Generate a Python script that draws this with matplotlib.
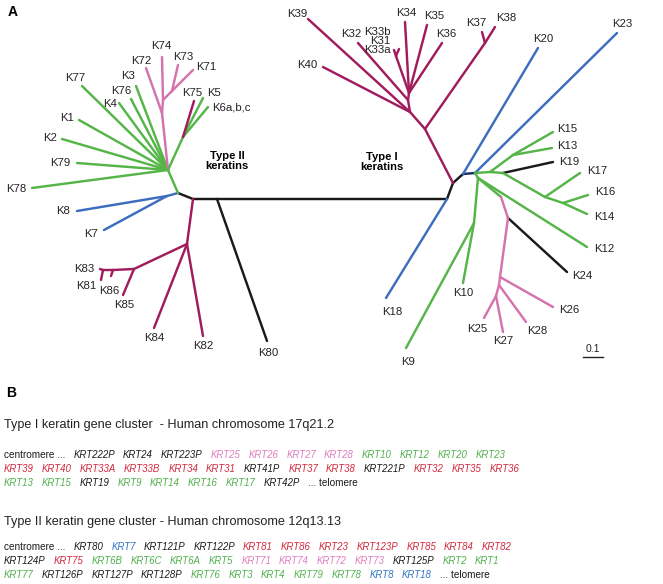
import matplotlib
matplotlib.use('Agg')
import matplotlib.pyplot as plt
from matplotlib.collections import LineCollection

plt.rcParams['font.family'] = ['Liberation Sans', 'DejaVu Sans']

# --- tree nodes (pixel layout of the unrooted keratin tree) ---
node_names = ['root2', 'k80n', 'K80', 'root1', 'bnode', 'b2', 'K8', 'K7', 'ghub',
              'K78', 'K79', 'K2', 'K1', 'K77', 'K4', 'K76', 'K3',
              'p1', 'K72', 'p2', 'K74', 'p3', 'K73', 'K71',
              'g5', 'K5', 'K6', 'K75',
              'hnode', 'K84', 'K82', 'h2', 'K85', 'h3', 'K86', 'h4', 'K81', 'K83',
              't1', 't2', 't3', 'K18',
              'm1', 'm37', 'K37', 'K38', 'm2', 'K40', 'K39', 'm3', 'K32', 'm4',
              'K34', 'K35', 'K36', 'm33', 'K33b', 'K31',
              'K20', 'K23',
              'ga', 'gb', 'K15', 'K13', 'gc', 'K19', 'gd', 'K17', 'ge', 'K16', 'K14',
              'gf', 'K12', 'gh', 'pk1', 'K24', 'pk2', 'K26', 'pk3', 'K28', 'pk4', 'K25', 'K27',
              'gg', 'K10', 'K9']
node_x = [193, 217, 267, 447, 178, 167, 77, 104, 168,
          32, 77, 62, 79, 82, 119, 131, 136,
          162, 146, 163, 162, 172, 178, 193,
          183, 203, 208, 194,
          187, 154, 203, 134, 123, 113, 111, 103, 101, 100,
          453, 463, 475, 386,
          425, 485, 482, 495, 410, 323, 308, 408, 358, 409,
          405, 427, 442, 396, 399, 394,
          538, 617,
          490, 513, 553, 552, 503, 553, 545, 580, 563, 588, 587,
          478, 587, 501, 508, 567, 500, 553, 499, 526, 496, 484, 503,
          474, 463, 406]
node_y = [199, 199, 341, 199, 193, 196, 211, 230, 170,
          188, 163, 139, 120, 86, 103, 99, 86,
          113, 68, 100, 57, 91, 65, 70,
          137, 98, 107, 101,
          244, 328, 336, 269, 295, 270, 276, 270, 280, 269,
          183, 174, 173, 298,
          129, 43, 32, 27, 112, 67, 19, 100, 43, 93,
          22, 25, 43, 56, 49, 50,
          48, 33,
          172, 155, 132, 148, 173, 162, 197, 173, 203, 195, 214,
          178, 247, 197, 218, 272, 277, 307, 285, 322, 296, 318, 332,
          223, 283, 348]

# edges: parent, child, colour group
edges = [('root2', 'k80n', 'k'), ('k80n', 'root1', 'k'), ('k80n', 'K80', 'k'),
         ('root2', 'bnode', 'k'), ('bnode', 'b2', 'blue'), ('b2', 'K8', 'blue'), ('b2', 'K7', 'blue'),
         ('bnode', 'ghub', 'green'),
         ('ghub', 'K78', 'green'), ('ghub', 'K79', 'green'), ('ghub', 'K2', 'green'),
         ('ghub', 'K1', 'green'), ('ghub', 'K77', 'green'), ('ghub', 'K4', 'green'),
         ('ghub', 'K76', 'green'), ('ghub', 'K3', 'green'),
         ('ghub', 'p1', 'pink'), ('p1', 'K72', 'pink'), ('p1', 'p2', 'pink'), ('p2', 'K74', 'pink'),
         ('p2', 'p3', 'pink'), ('p3', 'K73', 'pink'), ('p3', 'K71', 'pink'),
         ('ghub', 'g5', 'green'), ('g5', 'K5', 'green'), ('g5', 'K6', 'green'), ('g5', 'K75', 'mag'),
         ('root2', 'hnode', 'mag'), ('hnode', 'K84', 'mag'), ('hnode', 'K82', 'mag'),
         ('hnode', 'h2', 'mag'), ('h2', 'K85', 'mag'), ('h2', 'h3', 'mag'), ('h3', 'K86', 'mag'),
         ('h3', 'h4', 'mag'), ('h4', 'K81', 'mag'), ('h4', 'K83', 'mag'),
         ('root1', 't1', 'k'), ('t1', 't2', 'k'), ('t2', 't3', 'navy'), ('root1', 'K18', 'blue'),
         ('t1', 'm1', 'mag'), ('m1', 'm37', 'mag'), ('m37', 'K37', 'mag'), ('m37', 'K38', 'mag'),
         ('m1', 'm2', 'mag'), ('m2', 'K40', 'mag'), ('m2', 'K39', 'mag'), ('m2', 'm3', 'mag'),
         ('m3', 'K32', 'mag'), ('m3', 'm4', 'mag'), ('m4', 'K34', 'mag'), ('m4', 'K35', 'mag'),
         ('m4', 'K36', 'mag'), ('m4', 'm33', 'mag'), ('m33', 'K33b', 'mag'), ('m33', 'K31', 'mag'),
         ('t2', 'K20', 'blue'), ('t3', 'K23', 'blue'),
         ('t3', 'ga', 'green'), ('ga', 'gb', 'green'), ('gb', 'K15', 'green'), ('gb', 'K13', 'green'),
         ('ga', 'gc', 'green'), ('gc', 'K19', 'k'), ('gc', 'gd', 'green'), ('gd', 'K17', 'green'),
         ('gd', 'ge', 'green'), ('ge', 'K16', 'green'), ('ge', 'K14', 'green'),
         ('t3', 'gf', 'green'), ('gf', 'K12', 'green'), ('gf', 'gh', 'green'),
         ('gh', 'pk1', 'pink'), ('pk1', 'K24', 'k'), ('pk1', 'pk2', 'pink'), ('pk2', 'K26', 'pink'),
         ('pk2', 'pk3', 'pink'), ('pk3', 'K28', 'pink'), ('pk3', 'pk4', 'pink'),
         ('pk4', 'K25', 'pink'), ('pk4', 'K27', 'pink'),
         ('gf', 'gg', 'green'), ('gg', 'K10', 'green'), ('gg', 'K9', 'green')]

# leaf labels: text, x, y, alignment
label_text = ['K78', 'K79', 'K2', 'K1', 'K77', 'K4', 'K76', 'K3', 'K72', 'K74', 'K73', 'K71',
              'K75', 'K5', 'K6a,b,c', 'K8', 'K7', 'K83', 'K81', 'K86', 'K85', 'K84', 'K82', 'K80',
              'K39', 'K40', 'K32', 'K33b', 'K31', 'K33a', 'K34', 'K35', 'K36', 'K37', 'K38',
              'K20', 'K23', 'K15', 'K13', 'K19', 'K17', 'K16', 'K14', 'K12', 'K24', 'K10',
              'K26', 'K25', 'K27', 'K28', 'K18', 'K9']
label_x = [26, 70, 57, 74, 75, 117, 121, 128, 141, 161, 183, 196,
           192, 207, 212, 70, 98, 94, 96, 109, 124, 154, 203, 268,
           297, 307, 351, 391, 390, 391, 406, 434, 446, 476, 506,
           543, 622, 557, 557, 559, 587, 595, 594, 594, 572, 463,
           559, 477, 503, 537, 392, 408]
label_y = [189, 163, 138, 118, 78, 104, 91, 76, 61, 46, 57, 67,
           93, 93, 108, 211, 234, 269, 286, 291, 305, 338, 346, 353,
           14, 65, 34, 32, 41, 50, 13, 16, 34, 23, 18,
           39, 24, 129, 146, 162, 171, 192, 217, 249, 276, 293,
           310, 329, 341, 331, 312, 362]
label_ha = ['right', 'right', 'right', 'right', 'center', 'right', 'center', 'center',
            'center', 'center', 'center', 'left',
            'center', 'left', 'left', 'right', 'right', 'right', 'right', 'center', 'center',
            'center', 'center', 'center',
            'center', 'center', 'center', 'right', 'right', 'right', 'center', 'center',
            'center', 'center', 'center',
            'center', 'center', 'left', 'left', 'left', 'left', 'left', 'left', 'left', 'left',
            'center', 'left', 'center', 'center', 'center', 'center', 'center']

# --- gene cluster order (panel B) ---
type1_rows = [
    [('centromere ...', 'k'), ('KRT222P', 'k'), ('KRT24', 'k'), ('KRT223P', 'k'),
     ('KRT25', 'pink'), ('KRT26', 'pink'), ('KRT27', 'pink'), ('KRT28', 'pink'),
     ('KRT10', 'green'), ('KRT12', 'green'), ('KRT20', 'green'), ('KRT23', 'green')],
    [('KRT39', 'red'), ('KRT40', 'red'), ('KRT33A', 'red'), ('KRT33B', 'red'), ('KRT34', 'red'),
     ('KRT31', 'red'), ('KRT41P', 'k'), ('KRT37', 'red'), ('KRT38', 'red'), ('KRT221P', 'k'),
     ('KRT32', 'red'), ('KRT35', 'red'), ('KRT36', 'red')],
    [('KRT13', 'green'), ('KRT15', 'green'), ('KRT19', 'k'), ('KRT9', 'green'),
     ('KRT14', 'green'), ('KRT16', 'green'), ('KRT17', 'green'), ('KRT42P', 'k'),
     ('... telomere', 'k')],
]
type2_rows = [
    [('centromere ...', 'k'), ('KRT80', 'k'), ('KRT7', 'blue'), ('KRT121P', 'k'),
     ('KRT122P', 'k'), ('KRT81', 'red'), ('KRT86', 'red'), ('KRT23', 'red'),
     ('KRT123P', 'red'), ('KRT85', 'red'), ('KRT84', 'red'), ('KRT82', 'red')],
    [('KRT124P', 'k'), ('KRT75', 'red'), ('KRT6B', 'green'), ('KRT6C', 'green'),
     ('KRT6A', 'green'), ('KRT5', 'green'), ('KRT71', 'pink'), ('KRT74', 'pink'),
     ('KRT72', 'pink'), ('KRT73', 'pink'), ('KRT125P', 'k'), ('KRT2', 'green'), ('KRT1', 'green')],
    [('KRT77', 'green'), ('KRT126P', 'k'), ('KRT127P', 'k'), ('KRT128P', 'k'),
     ('KRT76', 'green'), ('KRT3', 'green'), ('KRT4', 'green'), ('KRT79', 'green'),
     ('KRT78', 'green'), ('KRT8', 'blue'), ('KRT18', 'blue'), ('... telomere', 'k')],
]

tree_colors = {'k': '#1a1a1a', 'green': '#55b548', 'blue': '#3d6dbf', 'mag': '#a11c5c',
               'pink': '#d473ad', 'navy': '#1c2a6e'}
text_colors = {'k': '#1a1a1a', 'green': '#4fb04c', 'blue': '#2f74c4', 'red': '#d3283c',
               'pink': '#e07cc0'}

W, H = 663, 584
fig = plt.figure(figsize=(W / 100, H / 100), dpi=100)
ax = fig.add_axes([0, 0, 1, 1])
ax.set_xlim(0, W)
ax.set_ylim(H, 0)
ax.axis('off')

pos = {n: (x, y) for n, x, y in zip(node_names, node_x, node_y)}
segs = [[pos[a], pos[b]] for a, b, c in edges]
cols = [tree_colors[c] for a, b, c in edges]
ax.add_collection(LineCollection(segs, colors=cols, linewidths=1.75, capstyle='round',
                                 joinstyle='round'))

for t, x, y, ha in zip(label_text, label_x, label_y, label_ha):
    ax.text(x, y, t, fontsize=8.2, ha=ha, va='center', color='#222222')

ax.text(227, 161, 'Type II\nkeratins', fontsize=8.1, fontweight='bold', ha='center',
        va='center', linespacing=1.05)
ax.text(382, 162, 'Type I\nkeratins', fontsize=8.1, fontweight='bold', ha='center',
        va='center', linespacing=1.05)

# scale bar 0.1
ax.plot([583, 603], [357, 357], color='#222222', lw=1)
ax.text(593, 349, '0.1', fontsize=7.5, ha='center', va='center', color='#222222')

ax.text(13, 12, 'A', fontsize=10, fontweight='bold', ha='center', va='center')
ax.text(11, 393, 'B', fontsize=10, fontweight='bold', ha='center', va='center')

renderer = fig.canvas.get_renderer()


def flow_row(words, y, x0=4, gap=8.0):
    x = x0
    for w, c in words:
        italic = w.startswith('KRT')
        t = ax.text(x, y, w, fontsize=6.9 if italic else 7.2, style='italic' if italic else 'normal',
                    color=text_colors[c], ha='left', va='center')
        x += t.get_window_extent(renderer).width + gap


ax.text(4, 425, 'Type I keratin gene cluster  - Human chromosome 17q21.2', fontsize=9.1,
        ha='left', va='center', color='#222222')
for row, y in zip(type1_rows, [455, 469, 483]):
    flow_row(row, y)
ax.text(4, 522, 'Type II keratin gene cluster - Human chromosome 12q13.13', fontsize=9.1,
        ha='left', va='center', color='#222222')
for row, y in zip(type2_rows, [547, 561, 575]):
    flow_row(row, y)

fig.savefig('out.png', dpi=100)
